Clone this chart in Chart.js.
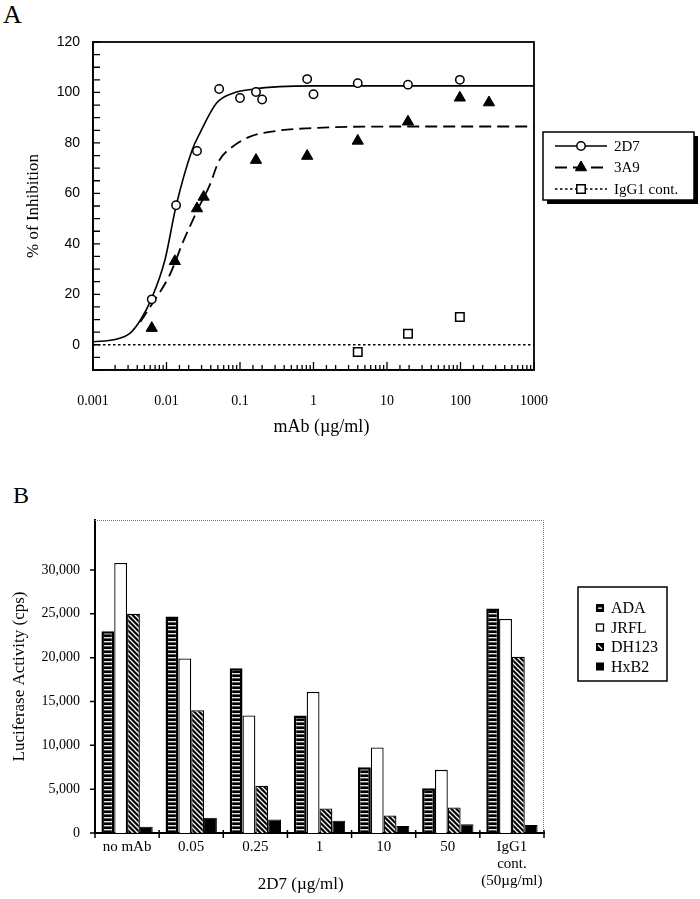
<!DOCTYPE html>
<html>
<head>
<meta charset="utf-8">
<script src="https://cdn.jsdelivr.net/npm/chart.js@4.4.0/dist/chart.umd.min.js"></script>
<style>
  body { margin: 0; background: #fff; width: 700px; height: 899px; position: relative; overflow: hidden; font-family: "Liberation Serif", serif; }
  .panel { position: absolute; left: 0; width: 700px; }
  #wrapA { top: 0; height: 440px; }
  #wrapB { top: 440px; height: 459px; }
  .letter { position: absolute; line-height: 1; color: #000; }
</style>
</head>
<body>
<div class="letter" style="left:3px;top:2px;font-size:26px">A</div>
<div class="letter" style="left:13px;top:483px;font-size:24px">B</div>
<div id="wrapA" class="panel"><canvas id="chartA" width="700" height="440"></canvas></div>
<div id="wrapB" class="panel"><canvas id="chartB" width="700" height="459"></canvas></div>
<script>
// ---- panel A data: % inhibition vs mAb dose
const dose2D7 = [0.0063, 0.0135, 0.026, 0.052, 0.1, 0.165, 0.2, 0.82, 1.0, 4.0, 19.3, 98];
const inhib2D7 = [18, 55.3, 76.8, 101.4, 97.8, 100.2, 97.2, 105.3, 99.3, 103.7, 103.1, 105];
const dose3A9 = [0.0063, 0.013, 0.026, 0.032, 0.165, 0.82, 4.0, 19.3, 98, 244];
const inhib3A9 = [6.6, 33.1, 54, 58.6, 73.2, 74.8, 80.8, 88.4, 97.9, 96];
const doseIgG1 = [4.0, 19.3, 98];
const inhibIgG1 = [-2.9, 4.4, 11];

// fitted curves
const fitDose2D7 = [0.001, 0.002, 0.0032, 0.0044, 0.0063, 0.0095, 0.0135, 0.0222, 0.0286, 0.048, 0.08, 0.15, 0.35, 1, 10, 100, 1000];
const fitInhib2D7 = [1.2, 2.1, 4.6, 9.7, 18.5, 33.5, 55, 77, 84, 95.8, 99.7, 101.3, 102.3, 102.6, 102.6, 102.6, 102.6];
const fitDose3A9 = [0.0044, 0.0063, 0.011, 0.0168, 0.026, 0.039, 0.052, 0.075, 0.137, 0.3, 0.82, 10, 100, 1000];
const fitInhib3A9 = [9, 16, 27.5, 40.8, 53, 63.5, 73, 78, 82.5, 84.7, 85.8, 86.5, 86.5, 86.5];
const fitDoseIgG1 = [0.001, 1000];
const fitInhibIgG1 = [0, 0];

const xTickLabels = ['0.001', '0.01', '0.1', '1', '10', '100', '1000'];

// ---- panel B data: luciferase activity
const categoriesB = ['no mAb', '0.05', '0.25', '1', '10', '50', ['IgG1', 'cont.', '(50µg/ml)']];
const ada = [23000, 24700, 18800, 13400, 7500, 5100, 25600];
const jrfl = [30800, 19900, 13400, 16100, 9750, 7200, 24400];
const dh123 = [25000, 14000, 5400, 2800, 2000, 2900, 20100];
const hxb2 = [700, 1750, 1550, 1400, 800, 1000, 900];
const yTicksB = [0, 5000, 10000, 15000, 20000, 25000, 30000];

Chart.defaults.color = '#000';
Chart.defaults.font.family = '"Liberation Serif", serif';

const toXY = (xs, ys) => xs.map((x, i) => ({ x, y: ys[i] }));

const decadeLabel = (v) => {
  const e = Math.log10(v);
  if (Math.abs(e - Math.round(e)) > 1e-6) return '';
  return xTickLabels[Math.round(e) + 3] || '';
};

// frame, inward ticks, x title and boxed legend for panel A
const decorA = {
  id: 'decorA',
  afterDraw(chart) {
    const { ctx, chartArea: a, scales: { x, y } } = chart;
    ctx.save();
    ctx.strokeStyle = '#000';
    ctx.lineWidth = 1.8;
    ctx.setLineDash([]);
    ctx.strokeRect(a.left, a.top, a.right - a.left, a.bottom - a.top);
    ctx.lineWidth = 1.3;
    ctx.beginPath();
    y.ticks.forEach(t => {
      const py = y.getPixelForValue(t.value);
      ctx.moveTo(a.left, py); ctx.lineTo(a.left + 7, py);
    });
    x.ticks.forEach(t => {
      const px = x.getPixelForValue(t.value);
      const major = decadeLabel(t.value) !== '';
      ctx.moveTo(px, a.bottom); ctx.lineTo(px, a.bottom - (major ? 8 : 5));
    });
    ctx.stroke();

    ctx.fillStyle = '#000';
    ctx.font = '18px "Liberation Serif"';
    ctx.textAlign = 'center';
    ctx.textBaseline = 'middle';
    ctx.fillText('mAb (µg/ml)', a.left + (a.right - a.left) * 0.518, a.bottom + 57);
    ctx.textAlign = 'left';

    // legend
    const lx = 543, ly = 132, lw = 151, lh = 68;
    ctx.fillStyle = '#000';
    ctx.fillRect(lx + 4, ly + 4, lw, lh);
    ctx.fillStyle = '#fff';
    ctx.fillRect(lx, ly, lw, lh);
    ctx.lineWidth = 1.5;
    ctx.strokeRect(lx, ly, lw, lh);
    const items = [
      { label: '2D7', line: chart.data.datasets[3], pt: chart.data.datasets[0] },
      { label: '3A9', line: chart.data.datasets[4], pt: chart.data.datasets[1] },
      { label: 'IgG1 cont.', line: chart.data.datasets[5], pt: chart.data.datasets[2] }
    ];
    ctx.font = '15px "Liberation Serif"';
    items.forEach((it, i) => {
      const cy = ly + 14 + i * 21.5;
      ctx.strokeStyle = '#000';
      ctx.lineWidth = it.line.borderWidth;
      ctx.setLineDash(it.line.borderDash || []);
      ctx.beginPath(); ctx.moveTo(lx + 12, cy); ctx.lineTo(lx + 64, cy); ctx.stroke();
      ctx.setLineDash([]);
      ctx.fillStyle = it.pt.pointBackgroundColor;
      ctx.strokeStyle = '#000';
      ctx.lineWidth = it.pt.pointBorderWidth;
      Chart.helpers.drawPoint(ctx, { pointStyle: it.pt.pointStyle, radius: it.pt.pointRadius, rotation: 0, borderWidth: it.pt.pointBorderWidth }, lx + 38, cy);
      ctx.fillStyle = '#000';
      ctx.fillText(it.label, lx + 71, cy + 1);
    });
    ctx.restore();
  }
};

new Chart(document.getElementById('chartA'), {
  type: 'scatter',
  data: {
    datasets: [
      { label: '2D7', data: toXY(dose2D7, inhib2D7), pointStyle: 'circle', pointRadius: 4.2, pointBackgroundColor: '#fff', pointBorderColor: '#000', pointBorderWidth: 1.5, showLine: false },
      { label: '3A9', data: toXY(dose3A9, inhib3A9), pointStyle: 'triangle', pointRadius: 6.5, pointBackgroundColor: '#000', pointBorderColor: '#000', pointBorderWidth: 1, showLine: false },
      { label: 'IgG1 cont.', data: toXY(doseIgG1, inhibIgG1), pointStyle: 'rect', pointRadius: 6, pointBackgroundColor: '#fff', pointBorderColor: '#000', pointBorderWidth: 1.5, showLine: false },
      { label: '2D7 fit', data: toXY(fitDose2D7, fitInhib2D7), showLine: true, borderColor: '#000', borderWidth: 1.6, pointRadius: 0, cubicInterpolationMode: 'monotone' },
      { label: '3A9 fit', data: toXY(fitDose3A9, fitInhib3A9), showLine: true, borderColor: '#000', borderWidth: 1.8, borderDash: [12, 6], pointRadius: 0, cubicInterpolationMode: 'monotone' },
      { label: 'IgG1 fit', data: toXY(fitDoseIgG1, fitInhibIgG1), showLine: true, borderColor: '#000', borderWidth: 1.5, borderDash: [2.5, 2.5], pointRadius: 0 }
    ]
  },
  options: {
    responsive: false,
    devicePixelRatio: 1,
    animation: false,
    layout: { padding: { left: 0, right: 166, top: 42, bottom: 0 } },
    plugins: { legend: { display: false }, tooltip: { enabled: false } },
    scales: {
      x: {
        type: 'logarithmic',
        min: 0.001,
        max: 1000,
        afterFit: (s) => { s.height = 70; },
        grid: { display: false, drawTicks: false },
        border: { display: true, color: '#000', width: 1.5 },
        ticks: { autoSkip: false, maxRotation: 0, padding: 23, font: { size: 14 }, callback: decadeLabel }
      },
      y: {
        min: -10,
        max: 120,
        afterFit: (s) => { s.width = 93; },
        grid: { display: false, drawTicks: false },
        border: { display: true, color: '#000', width: 1.5 },
        ticks: { stepSize: 5, autoSkip: false, padding: 13, font: { family: '"Liberation Sans", Arial', size: 14 }, callback: (v) => (v % 20 === 0 ? v : '') },
        title: { display: true, text: '% of Inhibition', font: { size: 17 }, padding: { top: 23 } }
      }
    }
  },
  plugins: [decorA]
});

// ---- hatch patterns for panel B
function makePattern(w, h, draw) {
  const c = document.createElement('canvas');
  c.width = w; c.height = h;
  const g = c.getContext('2d');
  draw(g);
  return g.createPattern(c, 'repeat');
}
const stripeFill = makePattern(8, 4, (g) => {
  g.fillStyle = '#000'; g.fillRect(0, 0, 8, 4);
  g.fillStyle = '#e6e6e6'; g.fillRect(0, 1, 8, 1.4);
});
const diagFill = makePattern(5, 5, (g) => {
  g.fillStyle = '#000'; g.fillRect(0, 0, 5, 5);
  g.strokeStyle = '#fff'; g.lineWidth = 1.3;
  g.beginPath();
  g.moveTo(-1, -1); g.lineTo(6, 6);
  g.moveTo(-1, 4); g.lineTo(1, 6);
  g.moveTo(4, -1); g.lineTo(6, 1);
  g.stroke();
});

const decorB = {
  id: 'decorB',
  afterDraw(chart) {
    const { ctx, chartArea: a, scales: { x, y } } = chart;
    ctx.save();
    // dotted top and right frame
    ctx.strokeStyle = '#777';
    ctx.lineWidth = 1;
    ctx.setLineDash([1, 1]);
    ctx.beginPath();
    ctx.moveTo(a.left, a.top + 0.5); ctx.lineTo(a.right - 0.5, a.top + 0.5); ctx.lineTo(a.right - 0.5, a.bottom);
    ctx.stroke();
    ctx.setLineDash([]);
    ctx.strokeStyle = '#000';
    ctx.lineWidth = 1.5;
    ctx.beginPath();
    y.ticks.forEach(t => {
      const py = y.getPixelForValue(t.value);
      ctx.moveTo(a.left - 5, py); ctx.lineTo(a.left, py);
    });
    const n = chart.data.labels.length;
    const w = (x.right - x.left) / n;
    for (let i = 0; i <= n; i++) {
      const px = x.left + i * w;
      ctx.moveTo(px, a.bottom - 3); ctx.lineTo(px, a.bottom + 5);
    }
    ctx.stroke();

    ctx.fillStyle = '#000';
    ctx.font = '17px "Liberation Serif"';
    ctx.textAlign = 'center';
    ctx.textBaseline = 'middle';
    ctx.fillText('2D7 (µg/ml)', x.left + (x.right - x.left) * 0.458, a.bottom + 52);
    ctx.textAlign = 'left';

    // legend
    const lx = 578, ly = 147, lw = 89, lh = 94;
    ctx.lineWidth = 1.5;
    ctx.strokeRect(lx, ly, lw, lh);
    ctx.font = '16px "Liberation Serif"';
    const names = chart.data.datasets.map(d => d.label);
    names.forEach((name, i) => {
      const cy = ly + 21 + i * 19.5;
      const sx = lx + 18, sy = cy - 4, s = 8;
      if (i === 1) {
        ctx.fillStyle = '#fff'; ctx.fillRect(sx, sy, s, s);
        ctx.lineWidth = 1.3; ctx.strokeRect(sx + 0.5, sy + 0.5, s - 1, s - 1);
      } else {
        ctx.fillStyle = '#000'; ctx.fillRect(sx, sy, s, s);
        ctx.fillStyle = '#fff';
        if (i === 0) ctx.fillRect(sx + 2, sy + 3.5, s - 4, 1.3);
        if (i === 2) {
          ctx.strokeStyle = '#fff'; ctx.lineWidth = 1.2;
          ctx.beginPath(); ctx.moveTo(sx + 2, sy + 2); ctx.lineTo(sx + 6, sy + 6); ctx.stroke();
          ctx.strokeStyle = '#000';
        }
      }
      ctx.fillStyle = '#000';
      ctx.fillText(name, lx + 33, cy + 1);
    });
    ctx.restore();
  }
};

new Chart(document.getElementById('chartB'), {
  type: 'bar',
  data: {
    labels: categoriesB,
    datasets: [
      { label: 'ADA', data: ada, backgroundColor: stripeFill, borderColor: '#000', borderWidth: 2.5 },
      { label: 'JRFL', data: jrfl, backgroundColor: '#fff', borderColor: '#000', borderWidth: 1.3 },
      { label: 'DH123', data: dh123, backgroundColor: diagFill, borderColor: '#000', borderWidth: 1.3 },
      { label: 'HxB2', data: hxb2, backgroundColor: '#000', borderColor: '#000', borderWidth: 1 }
    ]
  },
  options: {
    responsive: false,
    devicePixelRatio: 1,
    animation: false,
    layout: { padding: { left: 0, right: 156, top: 80, bottom: 0 } },
    plugins: { legend: { display: false }, tooltip: { enabled: false } },
    datasets: { bar: { categoryPercentage: 0.8, barPercentage: 1.0, borderSkipped: 'start' } },
    scales: {
      x: {
        afterFit: (s) => { s.height = 66; },
        grid: { display: false, drawTicks: false },
        border: { display: true, color: '#000', width: 2 },
        ticks: { autoSkip: false, maxRotation: 0, padding: 5, font: { size: 15, lineHeight: 1.15 } }
      },
      y: {
        min: 0,
        max: 35700,
        afterFit: (s) => { s.width = 95; },
        afterBuildTicks: (s) => { s.ticks = yTicksB.map(v => ({ value: v })); },
        grid: { display: false, drawTicks: false },
        border: { display: true, color: '#000', width: 2 },
        ticks: { padding: 15, font: { size: 14 }, callback: (v) => v.toLocaleString('en-US') },
        title: { display: true, text: 'Luciferase Activity (cps)', font: { size: 17 }, padding: { top: 9 } }
      }
    }
  },
  plugins: [decorB]
});
</script>
</body>
</html>
